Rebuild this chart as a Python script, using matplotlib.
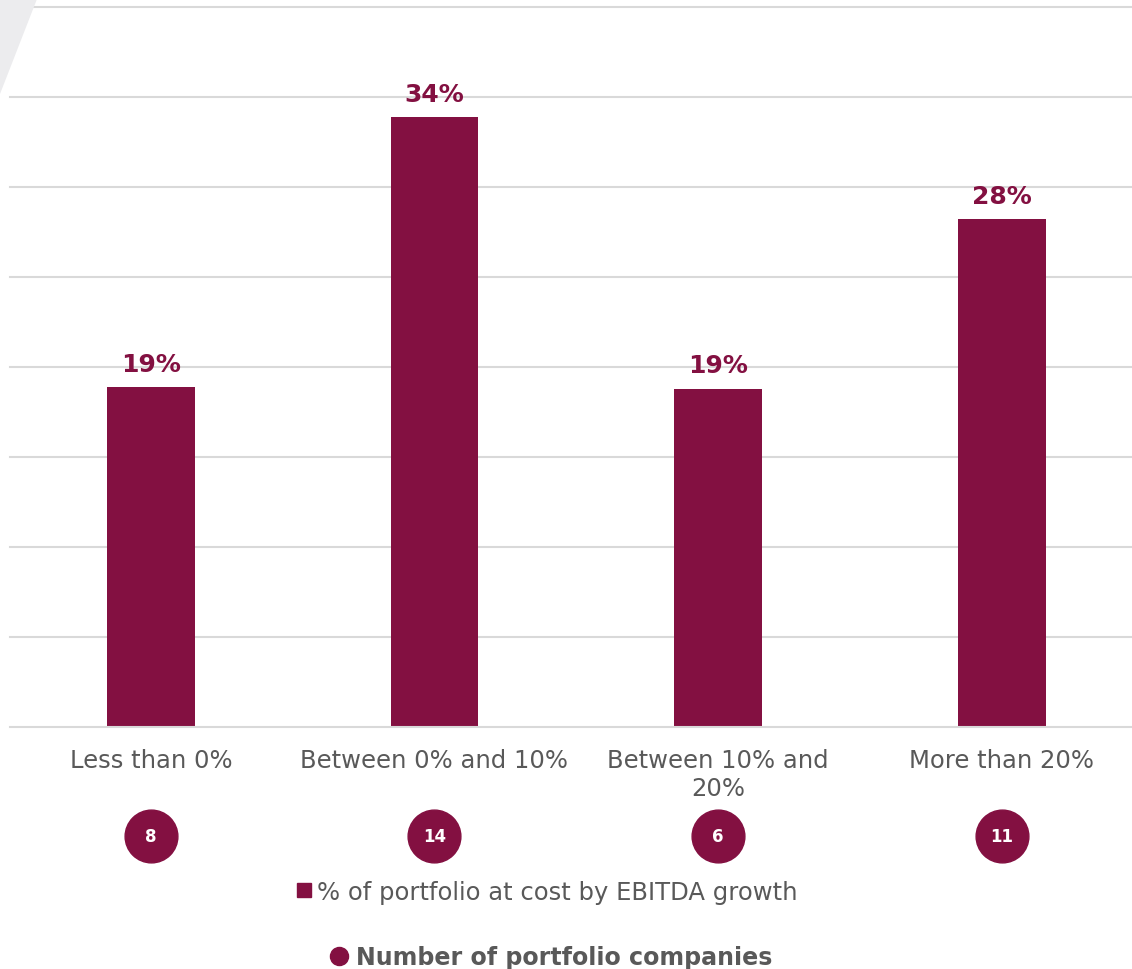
import matplotlib
matplotlib.use("Agg")
import matplotlib.pyplot as plt
from matplotlib.lines import Line2D
from matplotlib.patches import Polygon

categories = ["Less than 0%", "Between 0% and 10%", "Between 10% and\n20%", "More than 20%"]
values = [18.9, 33.9, 18.8, 28.2]
value_labels = ["19%", "34%", "19%", "28%"]
company_counts = [8, 14, 6, 11]
series_name = "% of portfolio at cost by EBITDA growth"
count_name = "Number of portfolio companies"

BAR = "#831041"
GRAY = "#595959"
GRID = "#d9d9d9"

plt.rcParams['font.family'] = ['DejaVu Sans']

fig = plt.figure(figsize=(11.32, 9.70), dpi=100)

# decorative background shape (top-left)
fig.patches.append(Polygon([[0, 1.0], [37/1132, 1.0], [0, 1 - 95/970]], closed=True,
                           transform=fig.transFigure, facecolor="#ececee", edgecolor="none", zorder=0))

ax = fig.add_axes([10/1132, 1 - 728/970, 1 - 10/1132, 720/970])
ax.set_facecolor("none")
x = list(range(len(categories)))
bars = ax.bar(x, values, width=0.31, color=BAR, zorder=3)
ax.set_xlim(-0.497, 3.46)
ax.set_ylim(0, 40)
ax.set_yticks([5, 10, 15, 20, 25, 30, 35, 40])
ax.yaxis.grid(True, color=GRID, linewidth=1.5, zorder=0)
for gl in ax.get_ygridlines():
    gl.set_clip_on(False)
ax.set_axisbelow(True)
ax.tick_params(axis="y", left=False, labelleft=False)
ax.tick_params(axis="x", length=0, pad=15, labelsize=17.5, labelcolor=GRAY)
ax.set_xticks(x)
ax.set_xticklabels(categories, linespacing=1.2)
for s in ["top", "right", "left"]:
    ax.spines[s].set_visible(False)
ax.spines["bottom"].set_color(GRID)
ax.spines["bottom"].set_linewidth(1.5)
ax.spines["bottom"].set_zorder(4)

ax.bar_label(bars, labels=value_labels, padding=8, fontsize=18, fontweight="bold", color=BAR)

# count circles below the axis
cy = -(837 - 728) / 18.0
ax.scatter(x, [cy] * len(x), s=(38) ** 2, color=BAR, clip_on=False, zorder=5)
for xi, c in zip(x, company_counts):
    ax.text(xi, cy, str(c), ha="center", va="center", color="white", fontsize=12,
            fontweight="bold", clip_on=False, zorder=6)

h1 = Line2D([], [], marker="s", linestyle="none", markersize=10, color=BAR)
leg1 = fig.legend([h1], [series_name], loc="center", bbox_to_anchor=(546/1132, 1 - 893/970),
                  frameon=False, fontsize=17.5, handletextpad=0.15, handlelength=0.8,
                  labelcolor=GRAY)
h2 = Line2D([], [], marker="o", linestyle="none", markersize=13, color=BAR)
leg2 = fig.legend([h2], [count_name], loc="center", bbox_to_anchor=(551/1132, 1 - 958/970),
                  frameon=False, prop={"size": 17.1, "weight": "bold"}, handletextpad=0.35,
                  handlelength=0.8, labelcolor=GRAY)

fig.savefig("out.png", dpi=100)
